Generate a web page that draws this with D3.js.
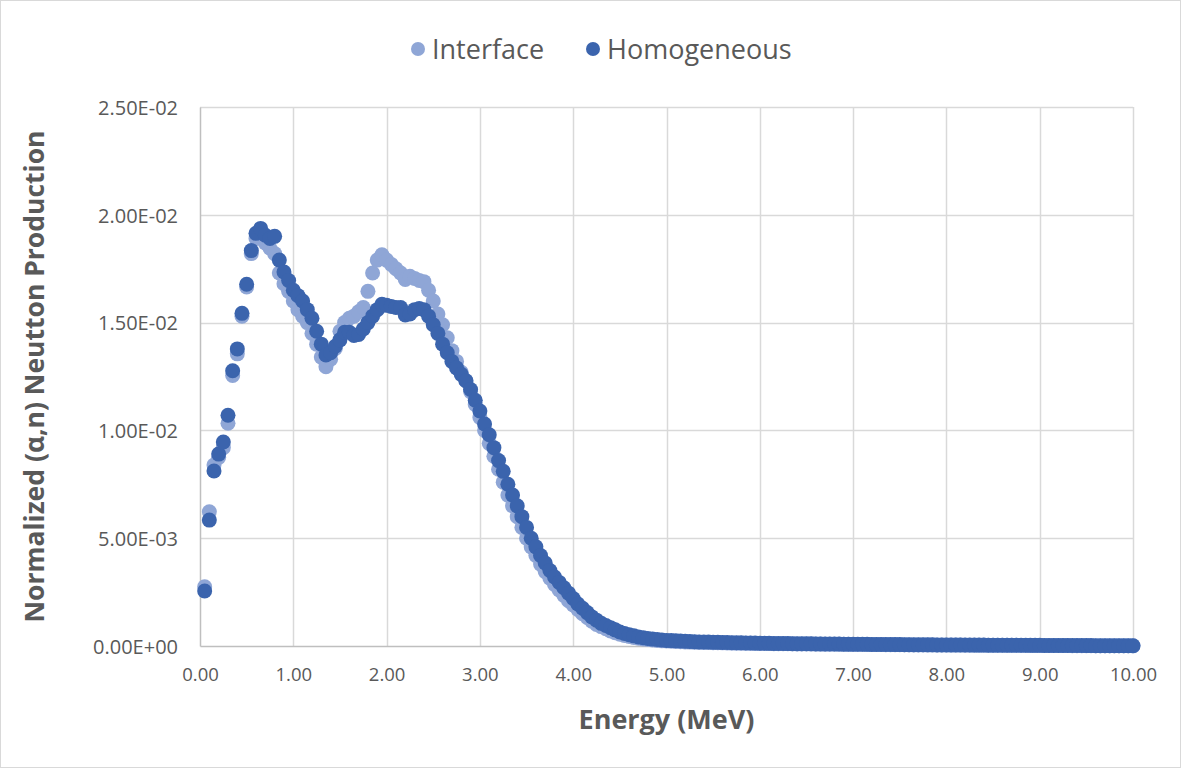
<!DOCTYPE html>
<html>
<head>
<meta charset="utf-8">
<script src="https://cdn.jsdelivr.net/npm/d3@7"></script>
<style>
  body { margin: 0; background: #fff; }
  #vis text { font-family: "Open Sans", "Noto Sans", sans-serif; fill: #595959; }
</style>
</head>
<body>
<div id="vis"></div>
<script>
// energy bins, MeV (every 0.05 from 0.05 to 10.00)
var energy = d3.range(1, 201).map(function(i) { return +(i * 0.05).toFixed(2); });

// normalized (alpha,n) neutron production, in units of 1e-3
var interfaceVals = [
    2.75, 6.23, 8.39, 8.75, 9.20, 10.33, 12.55, 13.55, 15.30, 16.65,
    18.20, 18.90, 19.00, 18.70, 18.45, 18.20, 17.30, 16.80, 16.45, 16.00,
    15.60, 15.30, 15.00, 14.50, 14.00, 13.40, 12.95, 13.30, 13.80, 14.60,
    15.00, 15.20, 15.30, 15.50, 15.70, 16.45, 17.30, 17.90, 18.15, 17.90,
    17.70, 17.50, 17.30, 17.00, 17.15, 17.05, 16.95, 16.90, 16.50, 16.00,
    15.40, 14.90, 14.30, 13.70, 13.20, 12.70, 12.30, 11.80, 11.20, 10.60,
    10.00, 9.40, 8.80, 8.20, 7.60, 7.00, 6.50, 6.00, 5.50, 5.00,
    4.60, 4.20, 3.80, 3.45, 3.15, 2.85, 2.60, 2.35, 2.10, 1.90,
    1.70, 1.50, 1.32, 1.15, 1.00, 0.90, 0.80, 0.70, 0.62, 0.55,
    0.49, 0.44, 0.40, 0.36, 0.33, 0.30, 0.28, 0.26, 0.24, 0.23,
    0.22, 0.21, 0.20, 0.19, 0.18, 0.175, 0.17, 0.165, 0.16, 0.155,
    0.15, 0.145, 0.14, 0.135, 0.13, 0.128, 0.125, 0.122, 0.12, 0.117,
    0.115, 0.112, 0.11, 0.107, 0.105, 0.102, 0.10, 0.098, 0.096, 0.094,
    0.092, 0.09, 0.088, 0.086, 0.084, 0.082, 0.08, 0.078, 0.076, 0.074,
    0.072, 0.07, 0.068, 0.066, 0.065, 0.064, 0.062, 0.06, 0.058, 0.057,
    0.056, 0.054, 0.052, 0.051, 0.05, 0.048, 0.047, 0.046, 0.045, 0.044,
    0.043, 0.042, 0.041, 0.04, 0.039, 0.038, 0.037, 0.036, 0.035, 0.034,
    0.033, 0.032, 0.031, 0.030, 0.029, 0.028, 0.027, 0.026, 0.025, 0.024,
    0.023, 0.022, 0.021, 0.020, 0.019, 0.018, 0.017, 0.016, 0.015, 0.014,
    0.013, 0.012, 0.012, 0.011, 0.011, 0.010, 0.010, 0.009, 0.009, 0.008
];

var homogeneousVals = [
    2.55, 5.84, 8.12, 8.90, 9.46, 10.70, 12.77, 13.78, 15.43, 16.78,
    18.34, 19.14, 19.37, 19.05, 18.90, 19.00, 17.90, 17.35, 16.95, 16.50,
    16.25, 16.00, 15.60, 15.20, 14.60, 14.00, 13.50, 13.60, 13.90, 14.20,
    14.55, 14.55, 14.40, 14.45, 14.70, 15.00, 15.30, 15.60, 15.85, 15.80,
    15.75, 15.70, 15.70, 15.35, 15.40, 15.60, 15.65, 15.60, 15.30, 14.90,
    14.50, 14.00, 13.60, 13.20, 12.90, 12.60, 12.30, 11.90, 11.40, 10.90,
    10.30, 9.80, 9.20, 8.60, 8.10, 7.50, 7.00, 6.50, 6.00, 5.50,
    5.00, 4.60, 4.20, 3.85, 3.50, 3.20, 2.95, 2.70, 2.45, 2.20,
    1.95, 1.75, 1.55, 1.35, 1.20, 1.05, 0.95, 0.85, 0.75, 0.65,
    0.58, 0.52, 0.47, 0.42, 0.38, 0.35, 0.32, 0.30, 0.28, 0.26,
    0.25, 0.24, 0.23, 0.22, 0.21, 0.20, 0.19, 0.185, 0.18, 0.175,
    0.17, 0.165, 0.16, 0.155, 0.15, 0.145, 0.14, 0.138, 0.135, 0.13,
    0.127, 0.124, 0.121, 0.118, 0.115, 0.112, 0.11, 0.107, 0.105, 0.102,
    0.10, 0.098, 0.096, 0.094, 0.092, 0.09, 0.088, 0.086, 0.084, 0.082,
    0.08, 0.078, 0.076, 0.074, 0.072, 0.07, 0.069, 0.068, 0.066, 0.064,
    0.062, 0.06, 0.059, 0.058, 0.056, 0.054, 0.053, 0.052, 0.05, 0.049,
    0.048, 0.047, 0.046, 0.045, 0.044, 0.043, 0.042, 0.041, 0.04, 0.039,
    0.038, 0.037, 0.036, 0.035, 0.034, 0.033, 0.032, 0.031, 0.03, 0.029,
    0.028, 0.027, 0.026, 0.025, 0.024, 0.023, 0.022, 0.021, 0.02, 0.019,
    0.018, 0.017, 0.017, 0.016, 0.016, 0.015, 0.015, 0.014, 0.014, 0.013
];

var seriesNames = ['Interface', 'Homogeneous'];
var seriesColors = ['#8fa6d6', '#3b64ad'];

var xTicks = [0, 1, 2, 3, 4, 5, 6, 7, 8, 9, 10];
var yTicks = [0, 0.005, 0.01, 0.015, 0.02, 0.025];

var xTitle = 'Energy (MeV)';
var yTitle = 'Normalized (\u03b1,n) Neutton Production';

window.onload = function()
{
    var width = 1183, height = 768;
    var margin = { left: 200, top: 107, right: 50, bottom: 122 };
    var plotW = width - margin.left - margin.right;
    var plotH = height - margin.top - margin.bottom;

    var svg = d3.select('#vis')
        .append('svg')
            .attr('width', width)
            .attr('height', height);

    // chart border
    svg.append('rect')
        .attr('x', 0.5).attr('y', 0.5)
        .attr('width', width - 3).attr('height', height - 1)
        .attr('fill', '#fff')
        .attr('stroke', '#d9d9d9');

    var g = svg.append('g')
        .attr('transform', 'translate(' + margin.left + ',' + margin.top + ')');

    var x = d3.scaleLinear().domain([0, 10]).range([0, plotW]);
    var y = d3.scaleLinear().domain([0, 0.025]).range([plotH, 0]);

    // gridlines
    g.selectAll('.vgrid')
        .data(xTicks.slice(1))
        .enter().append('line')
        .attr('class', 'vgrid')
        .attr('x1', function(d) { return Math.round(x(d)) + 0.5; })
        .attr('x2', function(d) { return Math.round(x(d)) + 0.5; })
        .attr('y1', 0).attr('y2', plotH)
        .attr('stroke', '#d9d9d9').attr('stroke-width', 1.5);

    g.selectAll('.hgrid')
        .data(yTicks.slice(1))
        .enter().append('line')
        .attr('class', 'hgrid')
        .attr('x1', 0).attr('x2', plotW)
        .attr('y1', function(d) { return Math.round(y(d)) + 0.5; })
        .attr('y2', function(d) { return Math.round(y(d)) + 0.5; })
        .attr('stroke', '#d9d9d9').attr('stroke-width', 1.5);

    // axes
    var xAxis = d3.axisBottom(x)
        .tickValues(xTicks)
        .tickSize(0)
        .tickPadding(22)
        .tickFormat(d3.format('.2f'));
    var yAxis = d3.axisLeft(y)
        .tickValues(yTicks)
        .tickSize(0)
        .tickPadding(22)
        .tickFormat(function(d) {
            return d3.format('.2e')(d).toUpperCase().replace(/E([+-])(\d)$/, 'E$10$2');
        });

    var gx = g.append('g')
        .attr('transform', 'translate(0,' + plotH + ')')
        .call(xAxis);
    var gy = g.append('g').call(yAxis);

    [gx, gy].forEach(function(a) {
        a.select('.domain').attr('stroke', '#bfbfbf').attr('stroke-width', 1.5);
        a.selectAll('text')
            .style('font-size', '18.5px')
            .attr('fill', '#595959');
    });
    gy.selectAll('text').style('font-size', '20px').attr('dy', '0.36em');

    // points
    var seriesVals = [interfaceVals, homogeneousVals];
    seriesVals.forEach(function(vals, s) {
        var pts = vals.map(function(v, i) { return { e: energy[i], v: v * 1e-3 }; });
        g.append('g')
            .selectAll('circle')
            .data(pts)
            .enter().append('circle')
            .attr('cx', function(d) { return x(d.e); })
            .attr('cy', function(d) { return y(d.v); })
            .attr('r', 7.5)
            .attr('fill', seriesColors[s]);
    });

    // axis titles
    svg.append('text')
        .attr('x', margin.left + plotW / 2)
        .attr('y', 729)
        .attr('text-anchor', 'middle')
        .style('font-size', '27px')
        .style('font-weight', 'bold')
        .text(xTitle);

    svg.append('text')
        .attr('transform', 'translate(44,' + (margin.top + plotH / 2) + ') rotate(-90)')
        .attr('text-anchor', 'middle')
        .style('font-size', '26.5px')
        .style('font-weight', 'bold')
        .text(yTitle);

    // legend
    var legendX = [418, 593];
    var legend = svg.append('g');
    seriesNames.forEach(function(name, s) {
        legend.append('circle')
            .attr('cx', legendX[s]).attr('cy', 49)
            .attr('r', 7)
            .attr('fill', seriesColors[s]);
        legend.append('text')
            .attr('x', legendX[s] + 14).attr('y', 49)
            .attr('dy', '0.36em')
            .style('font-size', '27px')
            .text(name);
    });
};
</script>
</body>
</html>
